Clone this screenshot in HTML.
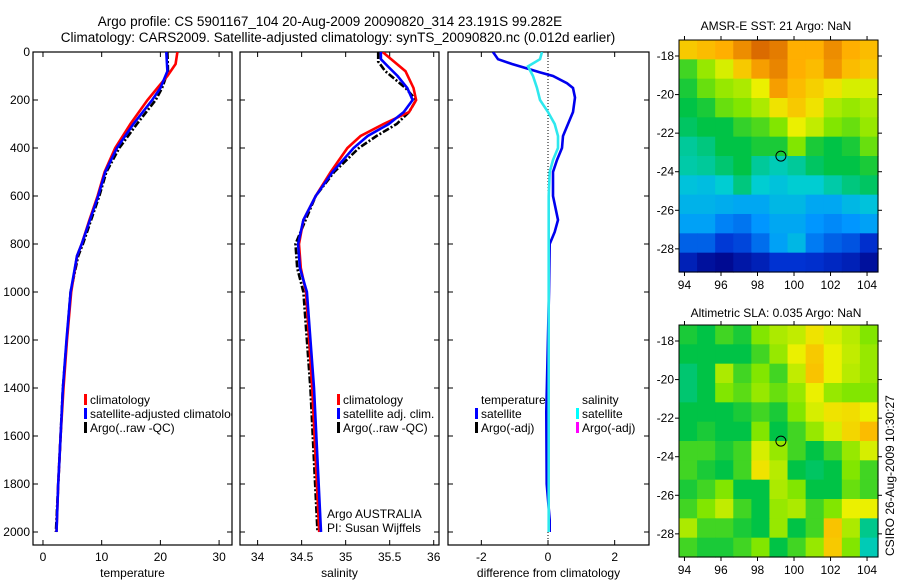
<!DOCTYPE html>
<html><head><meta charset="utf-8"><style>
body{margin:0;background:#fff;width:900px;height:580px;overflow:hidden}
svg{font-family:"Liberation Sans",sans-serif}
</style></head><body>
<svg id="c" width="900" height="580">
<defs>
<clipPath id="cp1"><rect x="33" y="52" width="199" height="493"/></clipPath>
<clipPath id="cp2"><rect x="240" y="52" width="199" height="493"/></clipPath>
<clipPath id="cp3"><rect x="448" y="52" width="201" height="493"/></clipPath>
</defs>
<text x="330" y="26" font-size="13.5" text-anchor="middle">Argo profile: CS 5901167_104 20-Aug-2009 20090820_314 23.191S 99.282E</text>
<text x="338" y="42" font-size="13.5" text-anchor="middle">Climatology: CARS2009. Satellite-adjusted climatology: synTS_20090820.nc (0.012d earlier)</text>
<text x="776" y="30" font-size="12" text-anchor="middle">AMSR-E SST: 21 Argo: NaN</text>
<text x="776" y="317" font-size="12" text-anchor="middle">Altimetric SLA: 0.035 Argo: NaN</text>
<text transform="translate(894,556) rotate(-90)" font-size="12">CSIRO 26-Aug-2009 10:30:27</text>
<g id="g"></g>
</svg>
<script>
const depthTicks=[0,200,400,600,800,1000,1200,1400,1600,1800,2000];
const tClimDepth=[0,50,100,150,200,300,400,500,600,700,800,850,1000,1200,1400,1600,1800,2000];
const tClim=[22.9,22.6,21.2,19.5,17.8,14.9,12.3,10.5,9.3,7.9,6.6,5.8,4.8,4.1,3.5,3.0,2.6,2.3];
const tSatDepth=[0,80,150,200,300,400,500,600,700,800,850,1000,1200,1400,1600,1800,2000];
const tSat=[21.0,21.2,20.0,18.6,15.4,12.6,10.6,9.4,8.0,6.6,5.8,4.7,4.0,3.4,3.0,2.6,2.3];
const tArgoDepth=[0,80,150,200,300,400,500,600,700,800,850,1000,1400,2000];
const tArgo=[21.2,21.3,20.3,19.2,16.0,13.0,10.8,9.6,8.2,6.8,6.0,4.7,3.4,2.2];
const sClimDepth=[0,80,150,200,250,300,350,400,500,600,700,800,900,1000,1400,2000];
const sClim=[35.42,35.68,35.77,35.80,35.72,35.43,35.17,35.02,34.83,34.66,34.52,34.47,34.49,34.55,34.62,34.70];
const sSatDepth=[0,30,60,100,150,200,250,300,350,400,500,600,700,800,900,1000,1400,2000];
const sSat=[35.40,35.40,35.48,35.59,35.70,35.76,35.66,35.49,35.25,35.09,34.85,34.66,34.52,34.46,34.48,34.56,34.64,34.72];
const sArgoDepth=[0,40,80,150,200,250,300,350,400,500,600,800,900,1000,1400,2000];
const sArgo=[35.37,35.37,35.45,35.68,35.80,35.72,35.58,35.35,35.15,34.87,34.66,34.43,34.45,34.52,34.60,34.68];
const dTDepth=[0,30,50,70,85,100,130,150,190,250,300,350,400,450,500,600,700,750,800,1000,1500,1800,1950,2000];
const dT=[-1.65,-1.5,-1.08,-0.6,-0.24,0.15,0.57,0.75,0.81,0.75,0.6,0.45,0.42,0.27,0.15,0.15,0.3,0.2,0.05,0.03,-0.05,-0.04,0.05,0.05];
const dSDepth=[0,30,60,100,150,200,250,300,350,400,450,500,600,1000,2000];
const dS=[-0.18,-0.24,-0.6,-0.45,-0.33,-0.24,0,0.2,0.3,0.3,0.15,0.05,0.02,0.02,0.02];
const tTicks=[0,10,20,30], sTicks=[34,34.5,35,35.5,36], dTicks=[-2,0,2];
const lonTicks=[94,96,98,100,102,104], latTicks=[-18,-20,-22,-24,-26,-28];
const sstGrid=[
[0.76,0.78,0.8,0.84,0.88,0.86,0.8,0.8,0.84,0.8,0.78],
[0.55,0.62,0.68,0.76,0.82,0.85,0.8,0.78,0.83,0.78,0.76],
[0.52,0.58,0.62,0.64,0.7,0.82,0.78,0.75,0.72,0.68,0.68],
[0.5,0.52,0.58,0.6,0.64,0.72,0.76,0.72,0.64,0.62,0.64],
[0.48,0.5,0.5,0.54,0.56,0.6,0.7,0.66,0.6,0.58,0.62],
[0.44,0.46,0.5,0.5,0.52,0.52,0.6,0.52,0.5,0.52,0.58],
[0.43,0.44,0.47,0.5,0.44,0.42,0.44,0.48,0.5,0.5,0.52],
[0.38,0.37,0.4,0.46,0.4,0.38,0.4,0.4,0.43,0.46,0.48],
[0.35,0.35,0.34,0.33,0.33,0.36,0.36,0.33,0.33,0.36,0.38],
[0.32,0.32,0.27,0.25,0.3,0.33,0.33,0.3,0.28,0.3,0.32],
[0.22,0.22,0.16,0.18,0.24,0.32,0.36,0.26,0.22,0.2,0.14],
[0.1,0.05,0.03,0.07,0.1,0.15,0.15,0.14,0.12,0.1,0.05]];
const slaGrid=[
[0.52,0.5,0.55,0.52,0.6,0.64,0.66,0.72,0.68,0.65,0.6],
[0.5,0.5,0.5,0.5,0.55,0.62,0.7,0.76,0.7,0.66,0.62],
[0.47,0.5,0.64,0.55,0.6,0.55,0.66,0.77,0.7,0.65,0.62],
[0.47,0.5,0.6,0.57,0.62,0.58,0.62,0.7,0.62,0.6,0.6],
[0.5,0.5,0.5,0.52,0.55,0.52,0.6,0.68,0.72,0.73,0.7],
[0.5,0.52,0.5,0.5,0.6,0.5,0.55,0.62,0.68,0.74,0.78],
[0.55,0.55,0.52,0.55,0.68,0.62,0.55,0.5,0.55,0.62,0.68],
[0.55,0.52,0.5,0.55,0.72,0.65,0.5,0.48,0.5,0.6,0.55],
[0.52,0.55,0.6,0.5,0.5,0.64,0.6,0.5,0.5,0.58,0.55],
[0.55,0.6,0.66,0.55,0.5,0.62,0.64,0.55,0.6,0.7,0.7],
[0.64,0.55,0.55,0.52,0.5,0.62,0.5,0.55,0.77,0.64,0.45],
[0.55,0.52,0.52,0.55,0.6,0.5,0.55,0.62,0.76,0.6,0.42]];
const argoLon=99.282, argoLat=-23.191;

const NS='http://www.w3.org/2000/svg', G=document.getElementById('g');
function mk(t,a,p){const e=document.createElementNS(NS,t);for(const k in a)if(a[k]!=null)e.setAttribute(k,a[k]);(p||G).appendChild(e);return e;}
const Y=d=>52+d*0.24;
function panel(x0,w,xmin,xmax,ticks,label,name,showY){
  const X=v=>x0+(v-xmin)/(xmax-xmin)*w;
  const g=mk('g',{});
  
  
  const r=mk('rect',{x:x0,y:52,width:w,height:493,fill:'none',stroke:'#000','stroke-width':1.2},g);
  
  
  ticks.forEach(t=>{const x=X(t);
    mk('line',{x1:x,x2:x,y1:52,y2:57,stroke:'#000'},g);mk('line',{x1:x,x2:x,y1:545,y2:540,stroke:'#000'},g);
    const tx=mk('text',{x:x,y:561,'font-size':12,'text-anchor':'middle'},g);tx.textContent=t;
    
    });
  depthTicks.forEach(d=>{const y=Y(d);
    mk('line',{x1:x0,x2:x0+5,y1:y,y2:y,stroke:'#000'},g);mk('line',{x1:x0+w,x2:x0+w-5,y1:y,y2:y,stroke:'#000'},g);
    if(showY){const tx=mk('text',{x:x0-3,y:y+4,'font-size':12,'text-anchor':'end'},g);tx.textContent=d;
      
      }});
  const lb=mk('text',{x:x0+w/2,y:577,'font-size':12,'text-anchor':'middle'},g);lb.textContent=label;
  
  
  return X;
}
function line(X,ds,vs,color,name,clip,dash){
  const pts=ds.map((d,i)=>X(vs[i]).toFixed(1)+','+Y(d).toFixed(1)).join(' ');
  const a={points:pts,fill:'none',stroke:color,'stroke-width':2.6,'clip-path':'url(#'+clip+')'};
  if(dash)a['stroke-dasharray']=dash;
  const p=mk('polyline',a);
  
  
}
function legend(x,y,items,clip){
  items.forEach((it,i)=>{
    if(it[0]) mk('rect',{x:x,y:y+i*14-10,width:3,height:11,fill:it[0]});
    const t=mk('text',{x:x+6,y:y+i*14,'font-size':12,'clip-path':clip?'url(#'+clip+')':null});t.textContent=it[1];
    
    
  });
}
const X1=panel(33,199,-1.7,32.2,tTicks,'temperature','temperature-panel',true);
line(X1,tArgoDepth,tArgo,'#000','temp-argo-line','cp1','7,2,2,2');
line(X1,tClimDepth,tClim,'#f00','temp-climatology-line','cp1');
line(X1,tSatDepth,tSat,'#00f','temp-satellite-line','cp1');
legend(84,404,[['#f00','climatology'],['#00f','satellite-adjusted climatology'],['#000','Argo(..raw -QC)']],'cp1');
const X2=panel(240,199,33.8,36.06,sTicks,'salinity','salinity-panel',false);
line(X2,sArgoDepth,sArgo,'#000','sal-argo-line','cp2','7,2,2,2');
line(X2,sClimDepth,sClim,'#f00','sal-climatology-line','cp2');
line(X2,sSatDepth,sSat,'#00f','sal-satellite-line','cp2');
legend(337,404,[['#f00','climatology'],['#00f','satellite adj. clim.'],['#000','Argo(..raw -QC)']]);
legend(321,518,[[null,'Argo AUSTRALIA'],[null,'PI: Susan Wijffels']]);
const X3=panel(448,201,-3,3.03,dTicks,'difference from climatology','difference-panel',false);
mk('line',{x1:X3(0),x2:X3(0),y1:52,y2:545,stroke:'#000','stroke-dasharray':'1,2'});
line(X3,dTDepth,dT,'#00e','temp-diff-line','cp3');
line(X3,dSDepth,dS,'#2ee8ee','sal-diff-line','cp3');
legend(475,404,[[null,'temperature'],['#00f','satellite'],['#000','Argo(-adj)']]);
legend(576,404,[[null,'salinity'],['#0ff','satellite'],['#f0f','Argo(-adj)']]);

const cmapStops=[[0,[0,0,130]],[0.15,[0,50,210]],[0.3,[0,150,255]],[0.4,[0,205,210]],[0.5,[0,195,70]],[0.6,[130,230,0]],[0.7,[235,240,0]],[0.8,[255,175,0]],[0.9,[210,90,0]],[1,[160,30,0]]];
function cmap(v){v=Math.max(0,Math.min(1,v));
  for(let i=1;i<cmapStops.length;i++){const [a,ca]=cmapStops[i-1],[b,cb]=cmapStops[i];
    if(v<=b){const f=(v-a)/(b-a);return 'rgb('+ca.map((c,k)=>Math.round(c+(cb[k]-c)*f)).join(',')+')';}}
  return 'rgb(160,30,0)';}
function map(top,grid,name){
  const L0=93.7,L1=104.6,A0=-17.17,A1=-29.2,x0=679,w=199,h=232;
  const MX=v=>x0+(v-L0)/(L1-L0)*w, MY=v=>top+(v-A0)/(A1-A0)*h;
  const g=mk('g',{});
  
  
  const nr=grid.length,nc=grid[0].length;
  grid.forEach((row,i)=>row.forEach((v,j)=>{
    const c=mk('rect',{x:x0+j*w/nc,y:top+i*h/nr,width:w/nc+0.6,height:h/nr+0.6,fill:cmap(v)},g);
    
    }));
  mk('rect',{x:x0,y:top,width:w,height:h,fill:'none',stroke:'#000'},g);
  lonTicks.forEach(l=>{const x=MX(l);mk('line',{x1:x,x2:x,y1:top,y2:top-4,stroke:'#000'},g);mk('line',{x1:x,x2:x,y1:top+h,y2:top+h+4,stroke:'#000'},g);
    const t=mk('text',{x:x,y:top+h+17,'font-size':12,'text-anchor':'middle'},g);t.textContent=l;
    
    });
  latTicks.forEach(a=>{const y=MY(a);mk('line',{x1:x0,x2:x0-4,y1:y,y2:y,stroke:'#000'},g);mk('line',{x1:x0+w,x2:x0+w+4,y1:y,y2:y,stroke:'#000'},g);
    const t=mk('text',{x:x0-5,y:y+4,'font-size':12,'text-anchor':'end'},g);t.textContent=a;
    
    });
  const c=mk('circle',{cx:MX(argoLon),cy:MY(argoLat),r:5,fill:'none',stroke:'#000'},g);
  
  
}
map(40,sstGrid,'sst-map');
map(325,slaGrid,'sla-map');
</script>
</body></html>
